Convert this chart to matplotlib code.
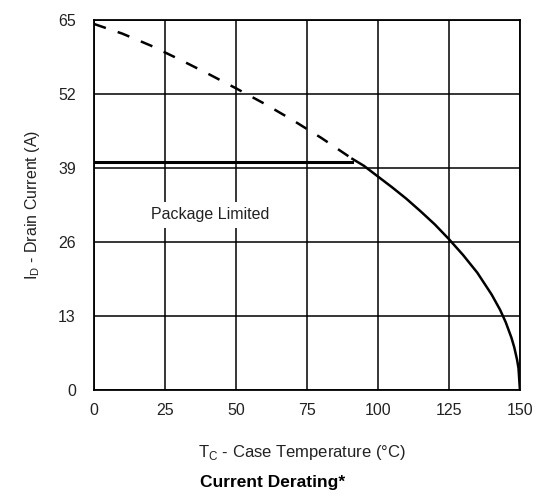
import matplotlib.pyplot as plt

plt.rcParams['font.family'] = ['Liberation Sans', 'DejaVu Sans']

# Case temperature (C) and drain current (A)
temp_dashed = [0, 10, 20, 25, 30, 40, 50, 60, 70, 80, 91]
curr_dashed = [64.3, 62.6, 60.5, 59.3, 58.1, 55.6, 53.0, 50.3, 47.4, 44.3, 40.6]
temp_solid = [91, 95, 100, 105, 110, 115, 120, 125, 130, 135, 140, 143, 145, 147, 148, 149, 149.5, 150]
curr_solid = [40.6, 39.4, 37.5, 35.6, 33.6, 31.4, 29.1, 26.5, 23.7, 20.6, 16.8, 14.1, 11.9, 9.2, 7.5, 5.3, 3.8, 0]
package_limit = 40
package_end = 91

xticks = [0, 25, 50, 75, 100, 125, 150]
yticks = [0, 13, 26, 39, 52, 65]

fig = plt.figure(figsize=(5.45, 4.96), dpi=100)
ax = fig.add_axes([0.1725, 0.2137, 0.7815, 0.746])

ax.set_xlim(0, 150)
ax.set_ylim(0, 65)
ax.set_xticks(xticks)
ax.set_yticks(yticks)
ax.tick_params(length=0, labelsize=11.5, colors='#222222')
ax.tick_params(axis='y', pad=13)
ax.tick_params(axis='x', pad=9)
ax.grid(True, color='black', linewidth=1.1)
ax.set_axisbelow(True)
for s in ax.spines.values():
    s.set_linewidth(1.3)

ax.plot(temp_dashed, curr_dashed, color='black', linewidth=1.8, dashes=(5, 5))
ax.plot(temp_solid, curr_solid, color='black', linewidth=1.8)
ax.plot([0, package_end], [package_limit, package_limit], color='black', linewidth=2.2)

ax.text(41, 30.8, 'Package Limited', ha='center', va='center', fontsize=11.5,
        color='#222222', bbox=dict(facecolor='white', edgecolor='none', pad=4))

ax.set_ylabel(r'I$_\mathregular{D}$ - Drain Current (A)', fontsize=11.5, labelpad=12, color='#222222')
fig.text(0.555, 0.088, r'T$_\mathregular{C}$ - Case Temperature (°C)', ha='center', va='center',
         fontsize=12, color='#222222')
fig.text(0.5, 0.028, 'Current Derating*', ha='center', va='center', fontsize=12.5, fontweight='bold')

plt.savefig('out.png', dpi=100)
